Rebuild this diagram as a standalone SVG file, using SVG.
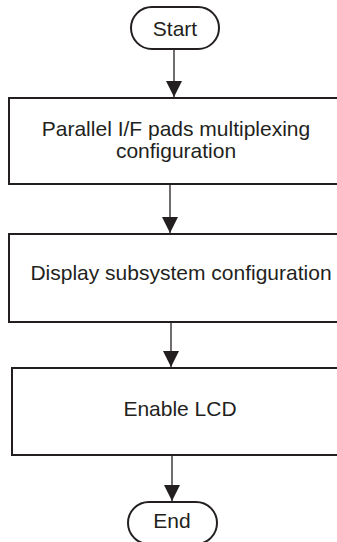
<svg xmlns="http://www.w3.org/2000/svg" width="337" height="542" viewBox="0 0 337 542">
<style>
.box{fill:#fff;stroke:#231f20;stroke-width:2}
.t{font-family:"Liberation Sans",Arial,sans-serif;font-size:21px;fill:#231f20}
.c{stroke:#231f20;stroke-width:1.3;fill:none;marker-end:url(#ah)}
</style>
<defs>
<marker id="ah" markerUnits="userSpaceOnUse" markerWidth="16" markerHeight="20" refX="16" refY="8" orient="auto">
<path d="M0,0 L16,8 L0,16 Z" fill="#231f20"/>
</marker>
</defs>
<rect width="337" height="542" fill="#fff"/>
<g id="connectors">
<line class="c" x1="174" y1="49" x2="174" y2="97"/>
<line class="c" x1="170" y1="185" x2="170" y2="233"/>
<line class="c" x1="171" y1="323" x2="171" y2="367"/>
<line class="c" x1="172" y1="456" x2="172" y2="501"/>
</g>
<g id="start">
<rect class="box" x="131" y="7" width="88" height="42" rx="21"/>
<text class="t" x="175" y="36" text-anchor="middle">Start</text>
</g>
<g id="pads">
<rect class="box" x="9" y="98" width="340" height="86"/>
<text class="t" x="176" y="136" text-anchor="middle">Parallel I/F pads multiplexing</text>
<text class="t" x="176" y="158" text-anchor="middle">configuration</text>
</g>
<g id="display">
<rect class="box" x="9" y="234" width="340" height="88"/>
<text class="t" x="181" y="280" text-anchor="middle">Display subsystem configuration</text>
</g>
<g id="lcd">
<rect class="box" x="12" y="368" width="340" height="87"/>
<text class="t" x="180" y="416" text-anchor="middle">Enable LCD</text>
</g>
<g id="end">
<rect class="box" x="128" y="502" width="89" height="42" rx="21"/>
<text class="t" x="172" y="528" text-anchor="middle">End</text>
</g>
</svg>
